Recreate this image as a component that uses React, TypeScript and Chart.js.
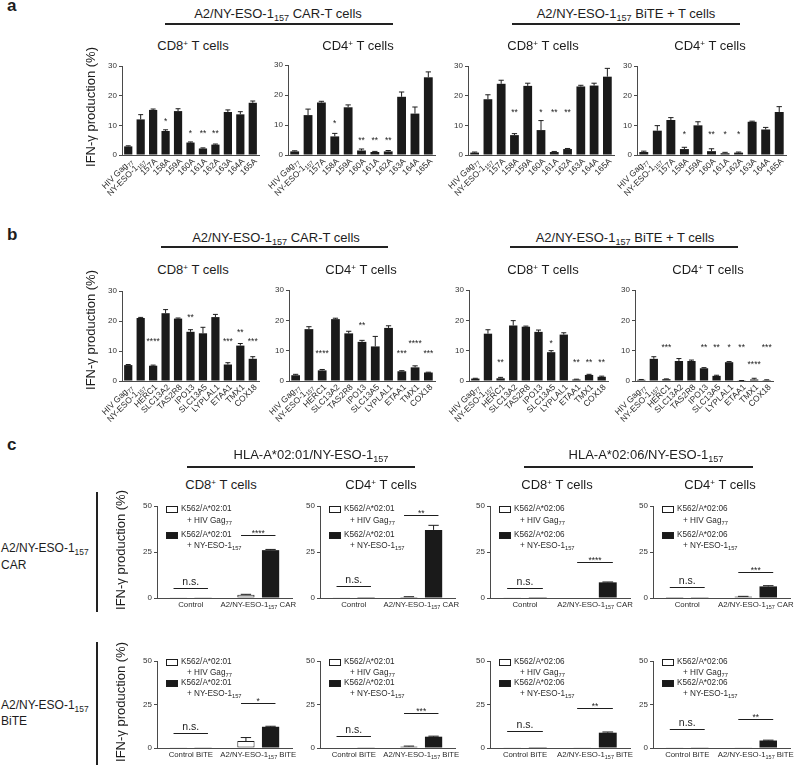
import React, { useEffect, useRef } from "react";
import { Chart, registerables } from "chart.js";
Chart.register(...registerables);

const FAMILY = '"Liberation Sans", Arial, Helvetica, sans-serif';
const INK = "#1d1d1d";
const AXIS = "#4a4a4a";
const BAR = "#1a1a1a";
Chart.defaults.font.family = FAMILY;

// ---------------- data: panel a ----------------
const catsA = ["HIV Gag_{77}", "NY-ESO-1_{157}", "157A", "158A", "159A", "160A", "161A", "162A", "163A", "164A", "165A"];

const aCd8Car = [2.9, 12.0, 15.2, 8.1, 14.8, 4.2, 2.2, 3.5, 14.5, 13.7, 17.6];
const aCd8CarErr = [0.2, 1.6, 0.3, 0.4, 0.8, 0.2, 0.2, 0.2, 0.7, 0.9, 0.6];
const aCd8CarSig = ["", "", "", "*", "", "*", "**", "**", "", "", ""];
const aCd8CarSigY = [0, 0, 0, 12, 0, 8, 8, 8, 0, 0, 0];

const aCd4Car = [1.2, 13.3, 17.5, 6.2, 15.9, 1.5, 1.0, 1.2, 19.4, 13.8, 25.9];
const aCd4CarErr = [0.2, 2.0, 0.4, 1.0, 0.8, 0.5, 0.2, 0.3, 1.6, 2.2, 1.8];
const aCd4CarSig = ["", "", "", "*", "", "**", "**", "**", "", "", ""];
const aCd4CarSigY = [0, 0, 0, 11, 0, 5.5, 5.5, 5.5, 0, 0, 0];

const aCd8Bite = [0.8, 18.8, 24.0, 6.7, 23.3, 8.4, 1.0, 2.0, 23.1, 23.4, 26.4];
const aCd8BiteErr = [0.2, 1.5, 1.2, 0.5, 0.9, 3.2, 0.2, 0.2, 0.4, 0.8, 2.8];
const aCd8BiteSig = ["", "", "", "**", "", "*", "**", "**", "", "", ""];
const aCd8BiteSigY = [0, 0, 0, 15, 0, 15, 15, 15, 0, 0, 0];

const aCd4Bite = [1.0, 8.2, 11.8, 2.0, 10.0, 1.3, 0.6, 0.8, 11.2, 8.6, 14.5];
const aCd4BiteErr = [0.3, 1.7, 0.8, 0.6, 1.2, 0.8, 0.3, 0.2, 0.2, 0.7, 1.8];
const aCd4BiteSig = ["", "", "", "*", "", "**", "*", "*", "", "", ""];
const aCd4BiteSigY = [0, 0, 0, 7.6, 0, 7.6, 7.6, 7.6, 0, 0, 0];

// ---------------- data: panel b ----------------
const catsB = ["HIV Gag_{77}", "NY-ESO-1_{157}", "HERC1", "SLC13A2", "TAS2R8", "IPO13", "SLC13A5", "LYPLAL1", "ETAA1", "TMX1", "COX18"];

const bCd8Car = [5.3, 21.0, 5.1, 22.6, 20.8, 16.4, 15.9, 21.3, 5.5, 11.8, 7.4];
const bCd8CarErr = [0.2, 0.2, 0.2, 1.2, 0.2, 0.7, 2.0, 0.9, 0.6, 0.7, 0.7];
const bCd8CarSig = ["", "", "****", "", "", "**", "", "", "***", "**", "***"];
const bCd8CarSigY = [0, 0, 13.9, 0, 0, 21.9, 0, 0, 13.9, 16.9, 13.9];

const bCd4Car = [1.9, 17.1, 3.5, 20.4, 15.7, 12.9, 11.4, 17.5, 3.2, 4.5, 2.8];
const bCd4CarErr = [0.3, 0.8, 0.3, 0.3, 0.7, 0.5, 3.3, 0.7, 0.2, 0.5, 0.1];
const bCd4CarSig = ["", "", "****", "", "", "**", "", "", "***", "****", "***"];
const bCd4CarSigY = [0, 0, 9.7, 0, 0, 19, 0, 0, 9.7, 13, 9.7];

const bCd8Bite = [0.8, 15.6, 0.9, 18.3, 17.9, 16.2, 9.5, 15.3, 0.5, 2.0, 1.4];
const bCd8BiteErr = [0.1, 1.3, 0.3, 1.6, 0.2, 0.6, 0.5, 0.6, 0.1, 0.2, 0.2];
const bCd8BiteSig = ["", "", "**", "", "", "", "*", "", "**", "**", "**"];
const bCd8BiteSigY = [0, 0, 6.6, 0, 0, 0, 13, 0, 6.6, 6.6, 6.6];

const bCd4Bite = [0.4, 7.3, 0.6, 6.6, 6.6, 4.2, 1.7, 6.2, 0.1, 0.5, 0.3];
const bCd4BiteErr = [0.1, 0.7, 0.1, 0.8, 0.3, 0.2, 0.2, 0.2, 0.05, 0.4, 0.1];
const bCd4BiteSig = ["", "", "***", "", "", "**", "**", "*", "**", "****", "***"];
const bCd4BiteSigY = [0, 0, 11.6, 0, 0, 11.6, 11.6, 11.6, 11.6, 6, 11.6];

// ---------------- data: panel c ----------------
const groupsCar = ["Control", "A2/NY-ESO-1_{157} CAR"];
const groupsBite = ["Control BiTE", "A2/NY-ESO-1_{157} BiTE"];
const legend0201 = ["K562/A*02:01", "+ HIV Gag_{77}", "K562/A*02:01", "+ NY-ESO-1_{157}"];
const legend0206 = ["K562/A*02:06", "+ HIV Gag_{77}", "K562/A*02:06", "+ NY-ESO-1_{157}"];

const c01Cd8CarGag = [0.2, 1.8];
const c01Cd8CarEso = [0.2, 26.0];
const c01Cd8CarGagErr = [0, 0.2];
const c01Cd8CarEsoErr = [0, 0.4];
const c01Cd8CarSig = ["n.s.", "****"];
const c01Cd8CarSigY = [5.5, 34.4];

const c01Cd4CarGag = [0.2, 0.6];
const c01Cd4CarEso = [0.1, 37.0];
const c01Cd4CarGagErr = [0, 0.1];
const c01Cd4CarEsoErr = [0, 2.5];
const c01Cd4CarSig = ["n.s.", "**"];
const c01Cd4CarSigY = [6.7, 45];

const c06Cd8CarGag = [0.1, 0.3];
const c06Cd8CarEso = [0.1, 8.5];
const c06Cd8CarGagErr = [0, 0];
const c06Cd8CarEsoErr = [0, 0.2];
const c06Cd8CarSig = ["n.s.", "****"];
const c06Cd8CarSigY = [5.5, 19.4];

const c06Cd4CarGag = [0.5, 0.8];
const c06Cd4CarEso = [0.4, 6.3];
const c06Cd4CarGagErr = [0, 0.1];
const c06Cd4CarEsoErr = [0, 0.4];
const c06Cd4CarSig = ["n.s.", "***"];
const c06Cd4CarSigY = [6.2, 14];

const c01Cd8BiteGag = [0.2, 4.0];
const c01Cd8BiteEso = [0.2, 12.2];
const c01Cd8BiteGagErr = [0, 2.0];
const c01Cd8BiteEsoErr = [0, 0.3];
const c01Cd8BiteSig = ["n.s.", "*"];
const c01Cd8BiteSigY = [8.5, 26];

const c01Cd4BiteGag = [0.3, 0.8];
const c01Cd4BiteEso = [0.2, 6.5];
const c01Cd4BiteGagErr = [0, 0.3];
const c01Cd4BiteEsoErr = [0, 0.3];
const c01Cd4BiteSig = ["n.s.", "***"];
const c01Cd4BiteSigY = [7, 20];

const c06Cd8BiteGag = [0.2, 0.2];
const c06Cd8BiteEso = [0.1, 8.8];
const c06Cd8BiteGagErr = [0, 0];
const c06Cd8BiteEsoErr = [0, 0.4];
const c06Cd8BiteSig = ["n.s.", "**"];
const c06Cd8BiteSigY = [9.7, 23];

const c06Cd4BiteGag = [0.2, 0.1];
const c06Cd4BiteEso = [0.2, 4.3];
const c06Cd4BiteGagErr = [0, 0];
const c06Cd4BiteEsoErr = [0, 0.2];
const c06Cd4BiteSig = ["n.s.", "**"];
const c06Cd4BiteSigY = [11, 16.5];

// ---------------- helpers ----------------
type Box = { l: number; t: number; r: number; b: number };
type M = { l: number; t: number; r: number; b: number };
type Part = { t: string; k: "n" | "sub" | "sup" };

function parseRich(s: string): Part[] {
  const parts: Part[] = [];
  const re = /(_|\^)\{([^}]*)\}/g;
  let last = 0;
  let m: RegExpExecArray | null;
  while ((m = re.exec(s))) {
    if (m.index > last) parts.push({ t: s.slice(last, m.index), k: "n" });
    parts.push({ t: m[2], k: m[1] === "_" ? "sub" : "sup" });
    last = m.index + m[0].length;
  }
  if (last < s.length) parts.push({ t: s.slice(last), k: "n" });
  return parts;
}
const plain = (s: string) => s.replace(/(_|\^)\{([^}]*)\}/g, "$2");

function drawRich(ctx: CanvasRenderingContext2D, s: string, x: number, y: number, size: number, align: "left" | "center" | "right", color = INK) {
  const parts = parseRich(s);
  const fN = `${size}px ${FAMILY}`;
  const fS = `${(size * 0.7).toFixed(2)}px ${FAMILY}`;
  let w = 0;
  const ws = parts.map((p) => {
    ctx.font = p.k === "n" ? fN : fS;
    const ww = ctx.measureText(p.t).width;
    w += ww;
    return ww;
  });
  let cx = align === "left" ? x : align === "center" ? x - w / 2 : x - w;
  ctx.textAlign = "left";
  ctx.textBaseline = "middle";
  ctx.fillStyle = color;
  parts.forEach((p, i) => {
    ctx.font = p.k === "n" ? fN : fS;
    const dy = p.k === "sub" ? size * 0.32 : p.k === "sup" ? -size * 0.3 : 0;
    ctx.fillText(p.t, cx, y + dy);
    cx += ws[i];
  });
}

function common(m: M) {
  return {
    responsive: false,
    animation: false,
    events: [],
    layout: { padding: { left: 0, top: m.t, right: m.r, bottom: 0 } },
    plugins: { legend: { display: false }, tooltip: { enabled: false } },
  };
}
function yScale(max: number, step: number, m: M) {
  return {
    min: 0,
    max,
    afterFit: (s: any) => {
      s.width = m.l;
    },
    ticks: { stepSize: step, font: { size: 8, family: FAMILY }, color: "#333", padding: 2 },
    grid: { display: true, drawOnChartArea: false, drawTicks: true, tickLength: 3, color: AXIS, lineWidth: 1 },
    border: { display: true, color: AXIS, width: 1 },
  };
}
function xScale(m: M) {
  return {
    afterFit: (s: any) => {
      s.height = m.b;
    },
    ticks: { display: false },
    grid: { display: false },
    border: { display: true, color: AXIS, width: 1 },
  };
}

function errBar(ctx: CanvasRenderingContext2D, ys: any, bar: any, v: number, e: number) {
  if (!(e > 0)) return;
  const y0 = ys.getPixelForValue(v);
  const y1 = ys.getPixelForValue(v + e);
  const hw = Math.max(2, bar.width * 0.3);
  ctx.beginPath();
  ctx.moveTo(bar.x, y0);
  ctx.lineTo(bar.x, y1);
  ctx.moveTo(bar.x - hw, y1);
  ctx.lineTo(bar.x + hw, y1);
  ctx.stroke();
}

function abConfig(cats: string[], vals: number[], errs: number[], sig: string[], sigY: number[], m: M) {
  const decor = {
    id: "abDecor",
    afterDraw(chart: any) {
      const { ctx, chartArea } = chart;
      const xs = chart.scales.x;
      const ys = chart.scales.y;
      const meta = chart.getDatasetMeta(0);
      ctx.save();
      ctx.strokeStyle = INK;
      ctx.lineWidth = 1;
      meta.data.forEach((bar: any, i: number) => {
        errBar(ctx, ys, bar, vals[i], errs[i]);
        if (sig[i]) {
          ctx.font = `8.5px ${FAMILY}`;
          ctx.textAlign = "center";
          ctx.textBaseline = "middle";
          ctx.fillStyle = INK;
          ctx.fillText(sig[i], bar.x, ys.getPixelForValue(sigY[i]) + 2);
        }
      });
      cats.forEach((c, i) => {
        const px = xs.getPixelForValue(i);
        ctx.save();
        ctx.translate(px + 3, chartArea.bottom + 5);
        ctx.rotate(-Math.PI / 4);
        drawRich(ctx, c, 0, 0, 8.5, "right", "#2a2a2a");
        ctx.restore();
      });
      ctx.restore();
    },
  };
  return {
    type: "bar",
    data: {
      labels: cats.map(plain),
      datasets: [{ data: vals, backgroundColor: BAR, borderWidth: 0, barPercentage: 0.66, categoryPercentage: 1 }],
    },
    options: { ...common(m), scales: { x: xScale(m), y: yScale(30, 10, m) } },
    plugins: [decor],
  };
}

function cConfig(
  groups: string[],
  gag: number[],
  eso: number[],
  gagErr: number[],
  esoErr: number[],
  sig: string[],
  sigY: number[],
  legend: string[],
  legOff: number[],
  m: M
) {
  const decor = {
    id: "cDecor",
    afterDraw(chart: any) {
      const { ctx, chartArea } = chart;
      const xs = chart.scales.x;
      const ys = chart.scales.y;
      ctx.save();
      ctx.strokeStyle = INK;
      ctx.lineWidth = 1;
      const m0 = chart.getDatasetMeta(0);
      const m1 = chart.getDatasetMeta(1);
      m0.data.forEach((bar: any, i: number) => errBar(ctx, ys, bar, gag[i], gagErr[i]));
      m1.data.forEach((bar: any, i: number) => errBar(ctx, ys, bar, eso[i], esoErr[i]));
      const catW = (chartArea.right - chartArea.left) / groups.length;
      groups.forEach((g, i) => {
        const px = xs.getPixelForValue(i);
        drawRich(ctx, g, px, chartArea.bottom + 7, 7.8, "center", "#2a2a2a");
        if (sig[i]) {
          const py = Math.round(ys.getPixelForValue(sigY[i])) + 0.5;
          const half = catW * 0.255;
          ctx.beginPath();
          ctx.moveTo(px - half, py);
          ctx.lineTo(px + half, py);
          ctx.stroke();
          ctx.fillStyle = INK;
          ctx.textAlign = "center";
          ctx.textBaseline = "middle";
          if (sig[i] === "n.s.") {
            ctx.font = `10.5px ${FAMILY}`;
            ctx.fillText(sig[i], px, py - 6);
          } else {
            ctx.font = `8.5px ${FAMILY}`;
            ctx.fillText(sig[i], px, py - 2);
          }
        }
      });
      // legend
      const lx = chartArea.left + 9;
      const fills = ["#ffffff", BAR];
      for (let k = 0; k < 2; k++) {
        const y1 = chartArea.top + legOff[2 * k];
        const y2 = chartArea.top + legOff[2 * k + 1];
        ctx.fillStyle = fills[k];
        ctx.fillRect(lx, y1 - 3, 11, 6);
        ctx.strokeStyle = INK;
        ctx.strokeRect(lx + 0.5, Math.round(y1 - 3) + 0.5, 11, 6);
        drawRich(ctx, legend[2 * k], lx + 15, y1, 8.2, "left", "#2a2a2a");
        drawRich(ctx, legend[2 * k + 1], lx + 21, y2, 8.2, "left", "#2a2a2a");
      }
      ctx.restore();
    },
  };
  return {
    type: "bar",
    data: {
      labels: groups.map(plain),
      datasets: [
        { data: gag, backgroundColor: "#ffffff", borderColor: INK, borderWidth: 1, borderSkipped: false, barPercentage: 0.7, categoryPercentage: 0.73 },
        { data: eso, backgroundColor: BAR, borderColor: BAR, borderWidth: 0, barPercentage: 0.7, categoryPercentage: 0.73 },
      ],
    },
    options: { ...common(m), scales: { x: xScale(m), y: yScale(50, 25, m) } },
    plugins: [decor],
  };
}

function ChartBox({ box, mb, build }: { box: Box; mb: number; build: (m: M) => any }) {
  const ref = useRef<HTMLCanvasElement>(null);
  const m: M = { l: 40, t: 12, r: 12, b: mb };
  const W = box.r - box.l + m.l + m.r;
  const H = box.b - box.t + m.t + m.b;
  useEffect(() => {
    const chart = new Chart(ref.current as HTMLCanvasElement, build(m));
    return () => chart.destroy();
  }, []);
  return (
    <canvas
      ref={ref}
      width={W}
      height={H}
      style={{ position: "absolute", left: box.l - m.l, top: box.t - m.t, width: W, height: H }}
    />
  );
}

function Sub({ children }: { children: any }) {
  return <span style={{ fontSize: "0.7em", position: "relative", top: "0.3em" }}>{children}</span>;
}
function Sup({ children }: { children: any }) {
  return <span style={{ fontSize: "0.62em", position: "relative", top: "-0.45em" }}>{children}</span>;
}

function Txt({ x, y, size = 13, anchor = "center", weight = 400, rotate = 0, children }: any) {
  const tx = anchor === "center" ? "-50%" : anchor === "left" ? "0%" : "-100%";
  return (
    <div
      style={{
        position: "absolute",
        left: x,
        top: y,
        fontSize: size,
        lineHeight: 1,
        fontWeight: weight,
        whiteSpace: "nowrap",
        transform: `translate(${tx}, -50%)${rotate ? ` rotate(${rotate}deg)` : ""}`,
      }}
    >
      {children}
    </div>
  );
}
function HLine({ x1, x2, y }: { x1: number; x2: number; y: number }) {
  return <div style={{ position: "absolute", left: x1, top: y - 0.75, width: x2 - x1, height: 1.5, background: "#222" }} />;
}
function VLine({ x, y1, y2 }: { x: number; y1: number; y2: number }) {
  return <div style={{ position: "absolute", left: x - 0.75, top: y1, width: 1.5, height: y2 - y1, background: "#222" }} />;
}

const Eso = () => (
  <>
    A2/NY-ESO-1<Sub>157</Sub>
  </>
);
const Cells = ({ n }: { n: string }) => (
  <>
    CD{n}
    <Sup>+</Sup> T cells
  </>
);

// ---------------- layout ----------------
const boxA = [
  { l: 122, t: 66, r: 259, b: 155 },
  { l: 288, t: 65, r: 435, b: 155 },
  { l: 468, t: 66, r: 614, b: 155 },
  { l: 637, t: 66, r: 786, b: 155 },
];
const boxB = [
  { l: 122, t: 291, r: 259, b: 381 },
  { l: 289, t: 290, r: 435, b: 381 },
  { l: 469, t: 290, r: 608, b: 381 },
  { l: 635, t: 290, r: 773, b: 381 },
];
const cx = [
  [157, 292],
  [320, 455],
  [490, 630],
  [653, 790],
];
const row1 = { t: 506, b: 598 };
const row2 = { t: 661, b: 748 };
const legOff1 = [3, 15, 29, 40];
const legOff2 = [1, 12, 22, 33];

export default function App() {
  return (
    <div
      style={{
        position: "absolute",
        left: 0,
        top: 0,
        width: 800,
        height: 766,
        overflow: "hidden",
        background: "#fff",
        fontFamily: FAMILY,
        color: INK,
      }}
    >
      {/* panel a */}
      <ChartBox box={boxA[0]} mb={70} build={(m) => abConfig(catsA, aCd8Car, aCd8CarErr, aCd8CarSig, aCd8CarSigY, m)} />
      <ChartBox box={boxA[1]} mb={70} build={(m) => abConfig(catsA, aCd4Car, aCd4CarErr, aCd4CarSig, aCd4CarSigY, m)} />
      <ChartBox box={boxA[2]} mb={70} build={(m) => abConfig(catsA, aCd8Bite, aCd8BiteErr, aCd8BiteSig, aCd8BiteSigY, m)} />
      <ChartBox box={boxA[3]} mb={70} build={(m) => abConfig(catsA, aCd4Bite, aCd4BiteErr, aCd4BiteSig, aCd4BiteSigY, m)} />
      {/* panel b */}
      <ChartBox box={boxB[0]} mb={70} build={(m) => abConfig(catsB, bCd8Car, bCd8CarErr, bCd8CarSig, bCd8CarSigY, m)} />
      <ChartBox box={boxB[1]} mb={70} build={(m) => abConfig(catsB, bCd4Car, bCd4CarErr, bCd4CarSig, bCd4CarSigY, m)} />
      <ChartBox box={boxB[2]} mb={70} build={(m) => abConfig(catsB, bCd8Bite, bCd8BiteErr, bCd8BiteSig, bCd8BiteSigY, m)} />
      <ChartBox box={boxB[3]} mb={70} build={(m) => abConfig(catsB, bCd4Bite, bCd4BiteErr, bCd4BiteSig, bCd4BiteSigY, m)} />
      {/* panel c row 1 */}
      <ChartBox box={{ l: cx[0][0], r: cx[0][1], ...row1 }} mb={20} build={(m) => cConfig(groupsCar, c01Cd8CarGag, c01Cd8CarEso, c01Cd8CarGagErr, c01Cd8CarEsoErr, c01Cd8CarSig, c01Cd8CarSigY, legend0201, legOff1, m)} />
      <ChartBox box={{ l: cx[1][0], r: cx[1][1], ...row1 }} mb={20} build={(m) => cConfig(groupsCar, c01Cd4CarGag, c01Cd4CarEso, c01Cd4CarGagErr, c01Cd4CarEsoErr, c01Cd4CarSig, c01Cd4CarSigY, legend0201, legOff1, m)} />
      <ChartBox box={{ l: cx[2][0], r: cx[2][1], ...row1 }} mb={20} build={(m) => cConfig(groupsCar, c06Cd8CarGag, c06Cd8CarEso, c06Cd8CarGagErr, c06Cd8CarEsoErr, c06Cd8CarSig, c06Cd8CarSigY, legend0206, legOff1, m)} />
      <ChartBox box={{ l: cx[3][0], r: cx[3][1], ...row1 }} mb={20} build={(m) => cConfig(groupsCar, c06Cd4CarGag, c06Cd4CarEso, c06Cd4CarGagErr, c06Cd4CarEsoErr, c06Cd4CarSig, c06Cd4CarSigY, legend0206, legOff1, m)} />
      {/* panel c row 2 */}
      <ChartBox box={{ l: cx[0][0], r: cx[0][1], ...row2 }} mb={20} build={(m) => cConfig(groupsBite, c01Cd8BiteGag, c01Cd8BiteEso, c01Cd8BiteGagErr, c01Cd8BiteEsoErr, c01Cd8BiteSig, c01Cd8BiteSigY, legend0201, legOff2, m)} />
      <ChartBox box={{ l: cx[1][0], r: cx[1][1], ...row2 }} mb={20} build={(m) => cConfig(groupsBite, c01Cd4BiteGag, c01Cd4BiteEso, c01Cd4BiteGagErr, c01Cd4BiteEsoErr, c01Cd4BiteSig, c01Cd4BiteSigY, legend0201, legOff2, m)} />
      <ChartBox box={{ l: cx[2][0], r: cx[2][1], ...row2 }} mb={20} build={(m) => cConfig(groupsBite, c06Cd8BiteGag, c06Cd8BiteEso, c06Cd8BiteGagErr, c06Cd8BiteEsoErr, c06Cd8BiteSig, c06Cd8BiteSigY, legend0206, legOff2, m)} />
      <ChartBox box={{ l: cx[3][0], r: cx[3][1], ...row2 }} mb={20} build={(m) => cConfig(groupsBite, c06Cd4BiteGag, c06Cd4BiteEso, c06Cd4BiteGagErr, c06Cd4BiteEsoErr, c06Cd4BiteSig, c06Cd4BiteSigY, legend0206, legOff2, m)} />

      {/* panel letters */}
      <Txt x={7} y={4.5} size={17} weight={700} anchor="left">a</Txt>
      <Txt x={7} y={233.5} size={17} weight={700} anchor="left">b</Txt>
      <Txt x={7} y={444} size={17} weight={700} anchor="left">c</Txt>

      {/* panel a texts */}
      <Txt x={278} y={14}><Eso /> CAR-T cells</Txt>
      <Txt x={626} y={14}><Eso /> BiTE + T cells</Txt>
      <HLine x1={165} x2={393} y={24} />
      <HLine x1={512} x2={740} y={24} />
      <Txt x={193} y={46}><Cells n="8" /></Txt>
      <Txt x={358} y={46}><Cells n="4" /></Txt>
      <Txt x={543} y={46}><Cells n="8" /></Txt>
      <Txt x={710} y={46}><Cells n="4" /></Txt>
      <Txt x={90} y={107} rotate={-90}>IFN-γ production (%)</Txt>

      {/* panel b texts */}
      <Txt x={276} y={238}><Eso /> CAR-T cells</Txt>
      <Txt x={625} y={238}><Eso /> BiTE + T cells</Txt>
      <HLine x1={161} x2={388} y={247} />
      <HLine x1={510} x2={738} y={247} />
      <Txt x={193} y={270}><Cells n="8" /></Txt>
      <Txt x={361} y={270}><Cells n="4" /></Txt>
      <Txt x={543} y={270}><Cells n="8" /></Txt>
      <Txt x={708} y={270}><Cells n="4" /></Txt>
      <Txt x={90} y={330} rotate={-90}>IFN-γ production (%)</Txt>

      {/* panel c texts */}
      <Txt x={311} y={455}>HLA-A*02:01/NY-ESO-1<Sub>157</Sub></Txt>
      <Txt x={646} y={455}>HLA-A*02:06/NY-ESO-1<Sub>157</Sub></Txt>
      <HLine x1={187} x2={415} y={467} />
      <HLine x1={524} x2={753} y={467} />
      <Txt x={221} y={485}><Cells n="8" /></Txt>
      <Txt x={381} y={485}><Cells n="4" /></Txt>
      <Txt x={557} y={485}><Cells n="8" /></Txt>
      <Txt x={720} y={485}><Cells n="4" /></Txt>
      <Txt x={120} y={550} rotate={-90}>IFN-γ production (%)</Txt>
      <Txt x={120} y={702} rotate={-90}>IFN-γ production (%)</Txt>
      <Txt x={1} y={548} size={12} anchor="left"><Eso /></Txt>
      <Txt x={1} y={565} size={12} anchor="left">CAR</Txt>
      <Txt x={1} y={705} size={12} anchor="left"><Eso /></Txt>
      <Txt x={1} y={721} size={12} anchor="left">BiTE</Txt>
      <VLine x={97} y1={492} y2={612} />
      <VLine x={97} y1={642} y2={765} />
    </div>
  );
}
